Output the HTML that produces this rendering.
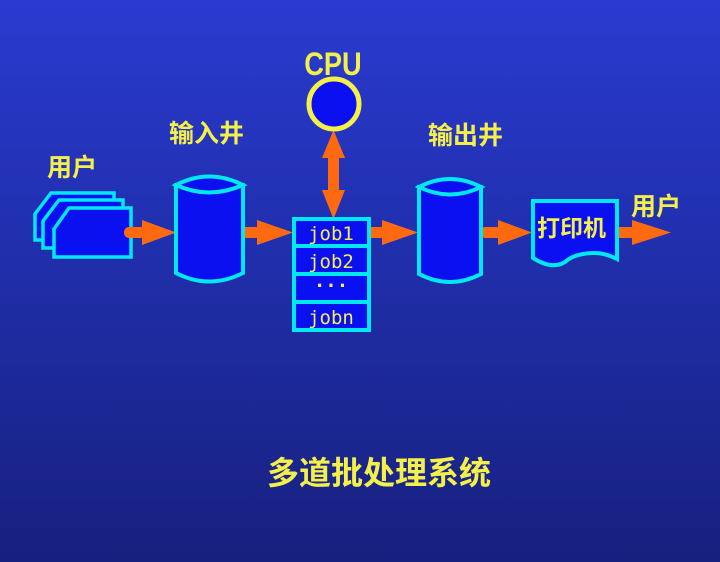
<!DOCTYPE html>
<html><head><meta charset="utf-8"><style>
html,body{margin:0;padding:0}
body{width:720px;height:562px;overflow:hidden;background:linear-gradient(#2a3bd0 0%,#2130b0 40%,#17207e 100%);}
svg{display:block}
text{font-family:"Liberation Sans","Noto Sans CJK SC",sans-serif;fill:#f4f04a}
text.mono{font-family:"DejaVu Sans Mono","Liberation Mono",monospace}
</style></head><body>
<svg width="720" height="562" viewBox="0 0 720 562">
<g stroke="#00e8f4" stroke-width="3.5" fill="#0a10f0" stroke-linejoin="miter">
<path d="M35,214 L51,193 L114,193 L114,240 L35,240 Z"/>
<path d="M43,221 L59,200 L123,200 L123,248 L43,248 Z"/>
<path d="M54,229 L69,208 L131,208 L131,257 L54,257 Z"/>
</g>
<g fill="#ff6a10">
<rect x="124" y="227" width="22" height="11" rx="5"/>
<path d="M142,220 L176,232.5 L142,245 Z"/>
<rect x="237" y="227" width="24" height="11" rx="5"/>
<path d="M257,220 L293,232.5 L257,245 Z"/>
<rect x="364" y="227" width="22" height="11" rx="5"/>
<path d="M382,220 L418,232.5 L382,245 Z"/>
<rect x="480" y="227" width="22" height="11" rx="5"/>
<path d="M498,220 L532,232.5 L498,245 Z"/>
<rect x="612" y="227" width="24" height="11" rx="5"/>
<path d="M632,220 L671,232.5 L632,245 Z"/>
<rect x="328" y="148" width="11" height="50"/>
<path d="M322,158 L333.5,130 L345,158 Z"/>
<path d="M322,190 L333.5,219 L345,190 Z"/>
</g>
<g stroke="#00e8f4" stroke-width="4" fill="#0a10f0">
<path d="M176,185 L176,273 Q209,290 243,273 L243,185 Z"/>
<path d="M176,185 Q209,168 243,185 Q209,200 176,185 Z"/>
<path d="M419,187 L419,274 Q450,290 481,274 L481,187 Z"/>
<path d="M419,187 Q450,171 481,187 Q450,202 419,187 Z"/>
<rect x="294" y="219" width="75" height="111"/>
<line x1="294" y1="246" x2="369" y2="246"/>
<line x1="294" y1="274" x2="369" y2="274"/>
<line x1="294" y1="302" x2="369" y2="302"/>
<path d="M533,201 L617,201 L617,259 Q605,253 595,253 Q575,253 565,262 Q552,270 533,258 Z"/>
</g>
<circle cx="334" cy="104" r="25" fill="#0a10f0" stroke="#f4f04a" stroke-width="5"/>
<text x="333" y="75" font-size="32" font-weight="bold" text-anchor="middle" transform="translate(333 0) scale(0.85 1) translate(-333 0)">CPU</text>
<g font-size="19" text-anchor="middle">
<text class="mono" x="331" y="240">job1</text>
<text class="mono" x="331" y="268">job2</text>
<text class="mono" x="331" y="292" font-weight="bold">···</text>
<text class="mono" x="331" y="324">jobn</text>
</g>
<g font-size="25" font-weight="bold">
<text x="47" y="176">用户</text>
<text x="169" y="142">输入井</text>
<text x="428" y="144">输出井</text>
<text x="631" y="215">用户</text>
<text x="537" y="236" font-size="23">打印机</text>
</g>
<text x="379" y="484" font-size="32" font-weight="bold" text-anchor="middle">多道批处理系统</text>
</svg>
</body></html>
